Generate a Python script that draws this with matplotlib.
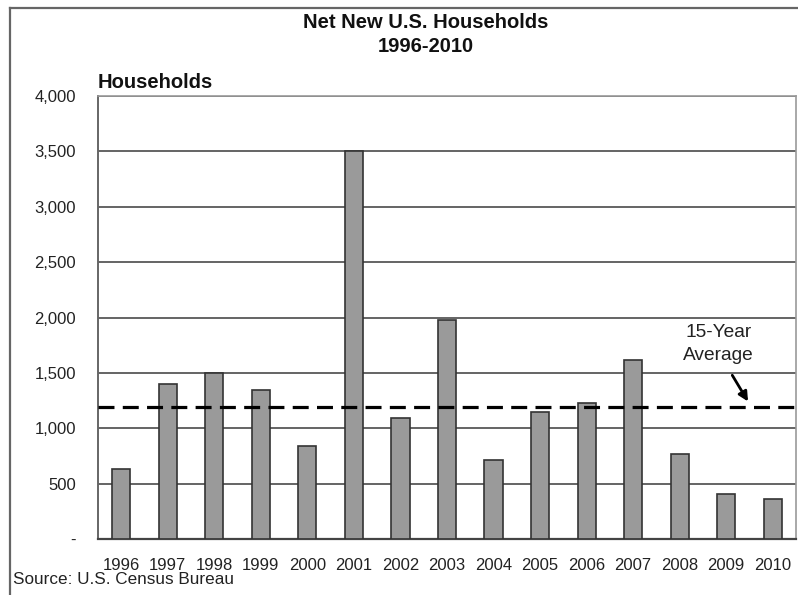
import numpy as np
import matplotlib.pyplot as plt
from matplotlib.lines import Line2D

plt.rcParams['font.family'] = ['Liberation Sans', 'DejaVu Sans']

# -------------------------------
# DATA (thousands of households)
# -------------------------------
years = ['1996', '1997', '1998', '1999', '2000', '2001', '2002', '2003',
         '2004', '2005', '2006', '2007', '2008', '2009', '2010']
new_households = [630, 1400, 1500, 1345, 840, 3500, 1093, 1980,
                  713, 1147, 1228, 1616, 767, 406, 361]
avg_15yr = 1190
y_ticks = [0, 500, 1000, 1500, 2000, 2500, 3000, 3500, 4000]
y_tick_labels = ['-', '500', '1,000', '1,500', '2,000', '2,500', '3,000', '3,500', '4,000']

# -------------------------------
# FIGURE
# -------------------------------
W, H = 798, 595
fig = plt.figure(figsize=(W / 100, H / 100), dpi=100)
ax = fig.add_axes([98 / W, (H - 539) / H, (796 - 98) / W, (539 - 96) / H])

x = np.arange(len(years))
ax.bar(x, new_households, width=0.39, color='#9a9a9a', edgecolor='#333333',
       linewidth=1.2, zorder=3)
ax.axhline(avg_15yr, color='black', lw=2.3, linestyle=(0, (5, 2.6)), zorder=4)

ax.set_xlim(-0.5, len(years) - 0.5)
ax.set_ylim(0, 4000)
ax.set_yticks(y_ticks)
ax.set_yticklabels(y_tick_labels)
ax.set_xticks(x)
ax.set_xticklabels(years)
ax.tick_params(axis='both', length=0, labelsize=12, colors='#222222')
ax.tick_params(axis='y', pad=16)
ax.tick_params(axis='x', pad=14)
ax.yaxis.grid(True, color='#4a4a4a', lw=1.2, zorder=1)
ax.set_axisbelow(True)

for side in ['top', 'right']:
    ax.spines[side].set_color('#999999')
    ax.spines[side].set_linewidth(1.2)
ax.spines['left'].set_color('#666666')
ax.spines['left'].set_linewidth(1.4)
ax.spines['bottom'].set_color('#444444')
ax.spines['bottom'].set_linewidth(1.6)

# annotation for the average line
ax.text(12.83, 1760, '15-Year\nAverage', ha='center', va='center',
        fontsize=13.8, color='#222222', linespacing=1.45)
ax.annotate('', xy=(13.5, avg_15yr + 30), xytext=(13.1, 1500),
            arrowprops=dict(arrowstyle='-|>', color='black', lw=2,
                            mutation_scale=14), zorder=5)

# titles and labels
fig.text(426 / W, 1 - 22 / H, 'Net New U.S. Households', ha='center', va='center',
         fontsize=14.5, fontweight='bold', color='#111111')
fig.text(426 / W, 1 - 46 / H, '1996-2010', ha='center', va='center',
         fontsize=14.5, fontweight='bold', color='#111111')
fig.text(98 / W, 1 - 83 / H, 'Households', ha='left', va='center',
         fontsize=14.5, fontweight='bold', color='#111111')
fig.text(13 / W, 1 - 580 / H, 'Source: U.S. Census Bureau', ha='left', va='center',
         fontsize=12.3, color='#222222')

# outer frame (top and left edges)
fig.add_artist(Line2D([10 / W, 1], [1 - 8 / H, 1 - 8 / H], color='#666666', lw=1.6,
                      transform=fig.transFigure))
fig.add_artist(Line2D([10 / W, 10 / W], [0, 1 - 8 / H], color='#666666', lw=1.6,
                      transform=fig.transFigure))

fig.savefig('out.png', dpi=100)
